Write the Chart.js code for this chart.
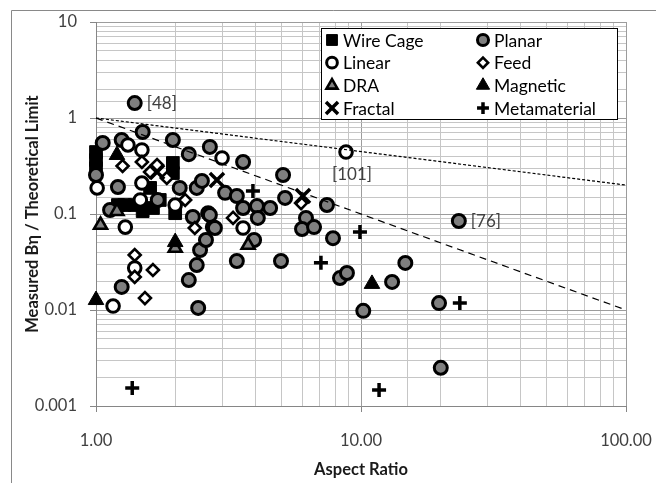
<!DOCTYPE html>
<html lang="en">
<head>
<meta charset="UTF-8">
<title>Measured Bη / Theoretical Limit vs Aspect Ratio</title>
<script src="https://cdn.jsdelivr.net/npm/chart.js"></script>
<style>
  body { margin: 0; background: #fff; }
  #wrap { position: relative; width: 656px; height: 483px; }
</style>
</head>
<body>
<div id="wrap"><canvas id="chart"></canvas></div>
<script>
// each point: [aspect ratio, measured Bη / theoretical limit]
const wireCage = [[1.0,0.442],[1.0,0.365],[1.0,0.30],[1.21,0.124],[1.28,0.124],[1.40,0.124],[1.50,0.107],
  [1.64,0.1155],[1.74,0.14],[1.60,0.187],[1.95,0.34],[1.95,0.267],[1.99,0.102]];
const planar = [[1.40,1.43],[1.06,0.55],[1.25,0.59],[1.50,0.715],[1.95,0.59],[2.24,0.42],[2.69,0.50],
  [3.59,0.348],[5.08,0.255],[1.0,0.255],[1.21,0.191],[1.13,0.110],[1.71,0.14],[2.07,0.187],[2.40,0.187],
  [2.51,0.221],[2.32,0.093],[2.65,0.102],[2.76,0.073],[3.07,0.166],[3.40,0.154],[3.59,0.1155],[4.05,0.121],
  [4.54,0.1155],[4.08,0.091],[5.17,0.147],[6.20,0.091],[5.99,0.0698],[6.65,0.073],[7.44,0.124],[7.84,0.056],
  [8.33,0.0215],[8.85,0.0243],[13.1,0.0196],[14.7,0.0309],[10.2,0.0098],[19.7,0.0118],[20.0,0.0025],
  [23.4,0.0845],[1.25,0.0174],[2.43,0.0105],[2.24,0.0205],[2.40,0.0294],[2.47,0.0422],[2.60,0.0536],
  [2.81,0.0715],[3.40,0.0324],[4.99,0.0324],[3.95,0.0536],[2.69,0.0977]];
const linear = [[1.32,0.524],[1.49,0.464],[1.01,0.187],[1.16,0.011],[1.29,0.073],[2.99,0.383],[8.78,0.442],
  [3.59,0.0715],[1.99,0.124],[1.40,0.0274],[1.49,0.21],[1.47,0.14]];
const feed = [[1.26,0.316],[1.49,0.348],[1.70,0.324],[1.60,0.274],[1.85,0.237],[2.17,0.14],[3.29,0.091],
  [5.94,0.130],[1.40,0.0374],[1.64,0.0261],[1.40,0.0221],[1.53,0.0133],[2.36,0.0715]];
const dra = [[1.04,0.0768],[1.20,0.107],[1.99,0.0442],[3.75,0.0475]];
const magnetic = [[1.20,0.412],[1.0,0.0127],[11.0,0.0187],[1.99,0.051]];
const fractal = [[2.86,0.226],[6.04,0.154],[1.70,0.274]];
const metamaterial = [[3.91,0.174],[9.91,0.065],[7.06,0.031],[23.6,0.0118],[1.37,0.00154],[11.7,0.00147]];

// reference lines
const guideX = [1, 100];
const guideDotted = [1, 0.2];
const guideDashed = [1, 0.01];

const xTickLabels = ['1.00', '10.00', '100.00'];   // 10^0 .. 10^2
const yTickLabels = ['0.001', '0.01', '0.1', '1', '10']; // 10^-3 .. 10^1

// [series, point index, text, placement]
const notes = [['Planar', 0, '[48]', 'right'], ['Linear', 6, '[101]', 'below'], ['Planar', 38, '[76]', 'right']];

const GRAY = '#7f7f7f';
const toXY = arr => arr.map(p => ({x: p[0], y: p[1]}));
const isDecade = v => { const e = Math.log10(v); return Math.abs(e - Math.round(e)) < 1e-6; };

function pts(label, data, style, r, bw, fill, order) {
  return {
    label, data: toXY(data), order, clip: false, showLine: false,
    pointStyle: style, pointRadius: r, pointHoverRadius: r, pointBorderWidth: bw, pointHoverBorderWidth: bw,
    pointBackgroundColor: fill, pointBorderColor: '#000', backgroundColor: fill, borderColor: '#000'
  };
}
function guide(ys, dash) {
  return {
    type: 'line', guide: true, order: 0, data: guideX.map((x, i) => ({x, y: ys[i]})),
    borderColor: '#000', borderWidth: 1.2, borderDash: dash, pointRadius: 0, fill: false
  };
}

const datasets = [
  pts('Wire Cage', wireCage, 'rect', 9, 1, '#000', 8),
  pts('Planar', planar, 'circle', 6.5, 3, GRAY, 7),
  pts('Linear', linear, 'circle', 6.3, 3, '#fff', 6),
  pts('Feed', feed, 'rectRot', 6, 2.6, '#fff', 5),
  pts('DRA', dra, 'triangle', 7.5, 2.6, GRAY, 4),
  pts('Magnetic', magnetic, 'triangle', 9, 1, '#000', 3),
  pts('Fractal', fractal, 'crossRot', 10, 3.5, '#000', 2),
  pts('Metamaterial', metamaterial, 'cross', 7, 3.5, '#000', 1),
  guide(guideDotted, [3, 2]),
  guide(guideDashed, [7, 5])
];

const frame = {
  id: 'frame',
  beforeDraw(chart) {
    const ctx = chart.ctx;
    ctx.save();
    ctx.strokeStyle = '#898989';
    ctx.lineWidth = 1;
    ctx.beginPath();
    ctx.moveTo(11.5, chart.height);
    ctx.lineTo(11.5, 10.5);
    ctx.lineTo(chart.width, 10.5);
    ctx.stroke();
    ctx.restore();
  }
};

const noteLabels = {
  id: 'noteLabels',
  afterDatasetsDraw(chart) {
    const ctx = chart.ctx;
    ctx.save();
    ctx.font = '17px Lato';
    ctx.fillStyle = '#404040';
    notes.forEach(([series, idx, text, place]) => {
      const di = chart.data.datasets.findIndex(d => d.label === series);
      const el = chart.getDatasetMeta(di).data[idx];
      if (place === 'below') {
        ctx.textAlign = 'center'; ctx.textBaseline = 'middle';
        ctx.fillText(text, el.x + 6, el.y + 22);
      } else {
        ctx.textAlign = 'left'; ctx.textBaseline = 'middle';
        ctx.fillText(text, el.x + 12, el.y);
      }
    });
    ctx.restore();
  }
};

const legendBox = {
  id: 'legendBox',
  afterDraw(chart) {
    const ctx = chart.ctx;
    const items = chart.data.datasets.filter(d => !d.guide);
    const left = 321, top = 28, w = 296, h = 91;
    ctx.save();
    ctx.fillStyle = '#fff';
    ctx.fillRect(left, top, w, h);
    ctx.strokeStyle = '#000';
    ctx.lineWidth = 1;
    ctx.strokeRect(left + 0.5, top + 0.5, w, h);
    ctx.font = '17.5px Lato';
    ctx.textBaseline = 'middle';
    ctx.textAlign = 'left';
    items.forEach((d, i) => {
      const col = i % 2, row = Math.floor(i / 2);
      const mx = left + 11 + col * 151, my = top + 12 + row * 22.7;
      ctx.fillStyle = d.pointBackgroundColor;
      ctx.strokeStyle = d.pointBorderColor;
      ctx.lineWidth = d.pointBorderWidth;
      Chart.helpers.drawPoint(ctx, {pointStyle: d.pointStyle, radius: d.pointRadius * 0.85,
        borderWidth: d.pointBorderWidth, rotation: 0}, mx, my);
      ctx.fillStyle = '#000';
      ctx.fillText(d.label, mx + 11, my + 1);
    });
    ctx.restore();
  }
};

const tickFont = {family: 'Lato', size: 16.5};
const titleFont = {family: 'Lato', size: 16.5, weight: 'bold'};
const gridColor = c => (c.tick && isDecade(c.tick.value)) ? '#9c9c9c' : '#c6c6c6';
const tickColor = c => (c.tick && isDecade(c.tick.value)) ? '#868686' : 'rgba(0,0,0,0)';

new Chart(document.getElementById('chart'), {
  type: 'scatter',
  data: {datasets},
  options: {
    responsive: true,
    maintainAspectRatio: false,
    animation: false,
    events: [],
    layout: {padding: {left: 11, right: 30, top: 22, bottom: 0}},
    plugins: {legend: {display: false}, tooltip: {enabled: false}},
    scales: {
      x: {
        type: 'logarithmic', min: 1, max: 100,
        afterFit: s => { s.height = 77; s.paddingLeft = 0; s.paddingRight = 0; },
        grid: {color: gridColor, tickColor: tickColor, tickLength: 6},
        border: {color: '#868686'},
        ticks: {
          autoSkip: false, maxRotation: 0, padding: 19, font: tickFont, color: '#404040',
          callback: v => isDecade(v) ? xTickLabels[Math.round(Math.log10(v))] : ''
        },
        title: {display: true, text: 'Aspect Ratio', font: titleFont, color: '#1a1a1a', padding: {top: 0, bottom: 3}}
      },
      y: {
        type: 'logarithmic', min: 0.001, max: 10,
        afterFit: s => { s.width = 85; s.paddingTop = 0; s.paddingBottom = 0; },
        grid: {color: gridColor, tickColor: tickColor, tickLength: 6},
        border: {color: '#868686'},
        ticks: {
          autoSkip: false, padding: 13, font: tickFont, color: '#404040',
          callback: v => isDecade(v) ? yTickLabels[Math.round(Math.log10(v)) + 3] : ''
        },
        title: {display: true, text: 'Measured Bη / Theoretical Limit', font: titleFont, color: '#1a1a1a', padding: {top: 12, bottom: 0}}
      }
    }
  },
  plugins: [frame, noteLabels, legendBox]
});
</script>
</body>
</html>
